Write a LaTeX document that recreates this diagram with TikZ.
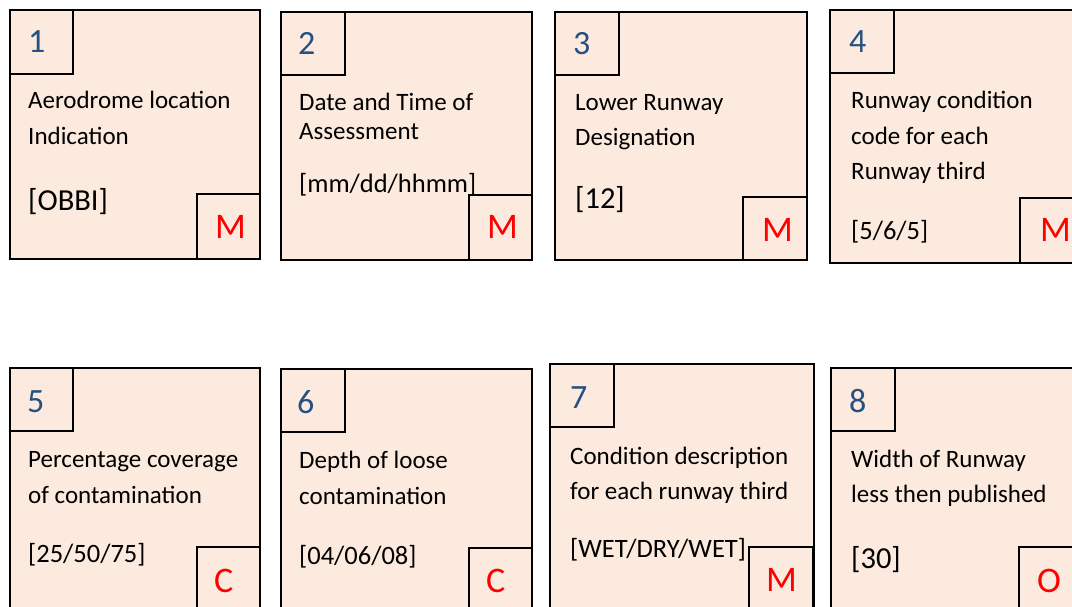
\documentclass[tikz,border=0pt]{standalone}
\usepackage{fontspec}
\setmainfont{Carlito}
\definecolor{peach}{RGB}{252,234,222}
\definecolor{numblue}{RGB}{36,80,130}
\definecolor{tagred}{RGB}{255,0,0}
\tikzset{
  card/.style={draw=black, fill=peach, line width=1.3pt},
  txt/.style={anchor=base west, inner sep=0pt, font=\fontsize{25}{28}\selectfont, text=black},
  val/.style={anchor=base west, inner sep=0pt, font=\fontsize{26.5}{30}\selectfont, text=black},
  bigval/.style={anchor=base west, inner sep=0pt, font=\fontsize{30.5}{34}\selectfont, text=black},
  num/.style={anchor=base west, inner sep=0pt, font=\fontsize{34}{36}\selectfont, text=numblue},
  tag/.style={anchor=base west, inner sep=0pt, font=\fontsize{36}{38}\selectfont, text=tagred}
}
\begin{document}
\begin{tikzpicture}[x=1pt,y=-1pt]
\useasboundingbox (0,0) rectangle (1072,607);
\clip (0,0) rectangle (1072,607);
\fill[white] (0,0) rectangle (1072,607);
% ---------- box 1 ----------
\draw[card] (10,10) rectangle (260,259);
\draw[card] (10,10) rectangle (73,74);
\draw[card] (197,194) rectangle (260,259);
\node[num] (n1) at (28,53) {1};
\node[txt] (t1a) at (28,109) {Aerodrome location};
\node[txt] (t1b) at (28,145) {Indication};
\node[bigval] (v1) at (28,211) {[OBBI]};
\node[tag] (m1) at (215,239) {M};
% ---------- box 2 ----------
\draw[card] (281,12) rectangle (532,260);
\draw[card] (281,12) rectangle (345,75);
\draw[card] (469,195) rectangle (532,260);
\node[num] (n2) at (298,55) {2};
\node[txt] (t2a) at (299,111) {Date and Time of};
\node[txt] (t2b) at (299,140) {Assessment};
\node[val] (v2) at (299,193) {[mm/dd/hhmm]};
\node[tag] (m2) at (487,239) {M};
% ---------- box 3 ----------
\draw[card] (555,12) rectangle (807,260);
\draw[card] (555,12) rectangle (619,75);
\draw[card] (743,197) rectangle (807,260);
\node[num] (n3) at (573,55) {3};
\node[txt] (t3a) at (575,111) {Lower Runway};
\node[txt] (t3b) at (575,146) {Designation};
\node[bigval] (v3) at (575,208) {[12]};
\node[tag] (m3) at (762,242) {M};
% ---------- box 4 ----------
\draw[card] (830,10) rectangle (1090,263);
\draw[card] (830,10) rectangle (894,73);
\draw[card] (1020,198) rectangle (1090,263);
\node[num] (n4) at (849,53) {4};
\node[txt] (t4a) at (851,109) {Runway condition};
\node[txt] (t4b) at (851,145) {code for each};
\node[txt] (t4c) at (851,180) {Runway third};
\node[val] (v4) at (851,240) {[5/6/5]};
\node[tag] (m4) at (1040,242) {M};
% ---------- box 5 ----------
\draw[card] (10,368) rectangle (260,620);
\draw[card] (10,368) rectangle (73,431);
\draw[card] (197,547) rectangle (260,620);
\node[num] (n5) at (27,412) {5};
\node[txt] (t5a) at (28,467) {Percentage coverage};
\node[txt] (t5b) at (28,503) {of contamination};
\node[val] (v5) at (28,562) {[25/50/75]};
\node[tag] (c5) at (214,592) {C};
% ---------- box 6 ----------
\draw[card] (281,369) rectangle (532,620);
\draw[card] (281,369) rectangle (345,432);
\draw[card] (469,548) rectangle (532,620);
\node[num] (n6) at (297,413) {6};
\node[txt] (t6a) at (299,468) {Depth of loose};
\node[txt] (t6b) at (299,504) {contamination};
\node[val] (v6) at (299,564) {[04/06/08]};
\node[tag] (c6) at (486,592) {C};
% ---------- box 7 ----------
\draw[card] (550,364) rectangle (814,620);
\draw[card] (550,364) rectangle (614,427);
\draw[card] (749,547) rectangle (813,620);
\node[num] (n7) at (570,408) {7};
\node[txt] (t7a) at (570,464) {Condition description};
\node[txt] (t7b) at (570,499) {for each runway third};
\node[val] (v7) at (570,557) {[WET/DRY/WET]};
\node[tag] (m7) at (766,591) {M};
% ---------- box 8 ----------
\draw[card] (831,368) rectangle (1090,620);
\draw[card] (831,368) rectangle (895,431);
\draw[card] (1019,547) rectangle (1090,620);
\node[num] (n8) at (849,412) {8};
\node[txt] (t8a) at (851,467) {Width of Runway};
\node[txt] (t8b) at (851,502) {less then published};
\node[bigval] (v8) at (851,568) {[30]};
\node[tag] (o8) at (1037,592) {O};
\end{tikzpicture}
\end{document}
